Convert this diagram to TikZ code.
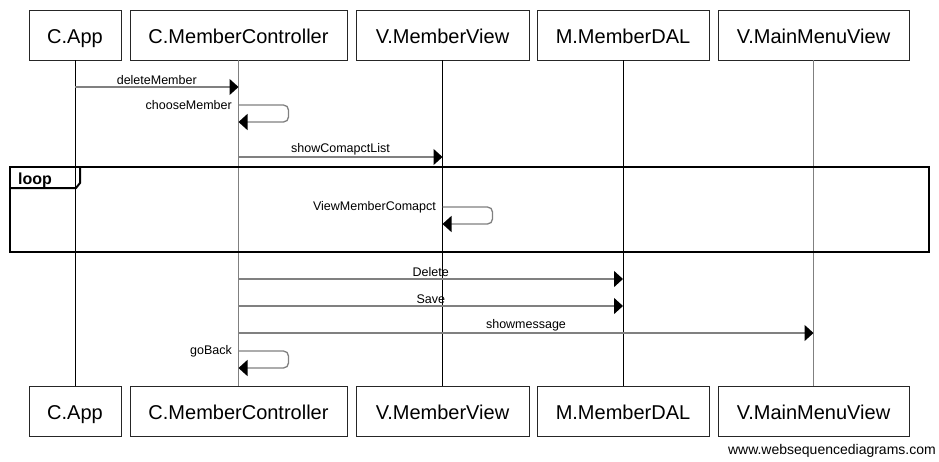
\documentclass[tikz,border=0pt]{standalone}
\usepackage{fontspec}
\setmainfont{Liberation Sans}
\usetikzlibrary{arrows.meta,calc}
\tikzstyle{participant} = [rectangle, draw=black!85, text centered, minimum height=50pt, inner sep=0pt, text height=18pt, text depth=2pt, font=\fontsize{20}{22}\selectfont]
\tikzstyle{lifeline} = [line width=1pt]
\tikzstyle{message} = [draw=black!50, line width=1.3pt, -{Triangle[length=9pt,width=16pt,fill=black,color=black]}]
\tikzstyle{msglabel} = [font=\fontsize{12.5}{14}\selectfont, inner sep=1.5pt]
\tikzstyle{selfmsg} = [draw=black!50, line width=1.3pt, rounded corners=5pt, -{Triangle[length=9pt,width=16pt,fill=black,color=black]}]

\begin{document}
\begin{tikzpicture}[x=1pt, y=-1pt]
            \useasboundingbox [fill=white] (0,0) rectangle (939,461);
            % participants, top and bottom
            \node (app) [participant, minimum width=92pt] at (75,35) {C.App};
            \node (ctrl) [participant, minimum width=217pt] at (238.5,35) {C.MemberController};
            \node (view) [participant, minimum width=173pt] at (442.5,35) {V.MemberView};
            \node (dal) [participant, minimum width=172pt] at (623,35) {M.MemberDAL};
            \node (menu) [participant, minimum width=191pt] at (813.5,35) {V.MainMenuView};
            \node (appB) [participant, minimum width=92pt] at (75,411) {C.App};
            \node (ctrlB) [participant, minimum width=217pt] at (238.5,411) {C.MemberController};
            \node (viewB) [participant, minimum width=173pt] at (442.5,411) {V.MemberView};
            \node (dalB) [participant, minimum width=172pt] at (623,411) {M.MemberDAL};
            \node (menuB) [participant, minimum width=191pt] at (813.5,411) {V.MainMenuView};
            % lifelines
            \draw [lifeline] (app) -- (appB);
            \draw [lifeline, black!50] (ctrl) -- (ctrlB);
            \draw [lifeline] (view) -- (viewB);
            \draw [lifeline] (dal) -- (dalB);
            \draw [lifeline, black!50] (menu) -- (menuB);
            % loop frame
            \draw [line width=2pt] (10,167) rectangle (929,252);
            \draw [line width=2pt] (10,188) -- (76,188) -- (80,183) -- (80,167);
            \node (loop) [anchor=base west, inner sep=0pt, font=\fontsize{16}{18}\selectfont\bfseries] at (18,184) {loop};
            % messages
            \draw [message] (app.south |- 0,87) -- node[msglabel, above] {deleteMember} (ctrl.south |- 0,87);
            \draw [selfmsg] (ctrl.south |- 0,105) -- ($(ctrl.south |- 0,105)+(50,0)$) -- ($(ctrl.south |- 0,122)+(50,0)$) -- (ctrl.south |- 0,122);
            \node (chooseLbl) [msglabel, anchor=east] at ($(ctrl.south |- 0,105)+(-5,0)$) {chooseMember};
            \draw [message] (ctrl.south |- 0,157) -- node[msglabel, above] {showComapctList} (view.south |- 0,157);
            \draw [selfmsg] (view.south |- 0,207) -- ($(view.south |- 0,207)+(50,0)$) -- ($(view.south |- 0,224)+(50,0)$) -- (view.south |- 0,224);
            \node (viewLbl) [msglabel, anchor=east] at ($(view.south |- 0,207)+(-5,0)$) {ViewMemberComapct};
            \draw [message] (ctrl.south |- 0,279) -- node[msglabel, above] {Delete} (dal.south |- 0,279);
            \draw [message] (ctrl.south |- 0,306) -- node[msglabel, above] {Save} (dal.south |- 0,306);
            \draw [message] (ctrl.south |- 0,333) -- node[msglabel, above] {showmessage} (menu.south |- 0,333);
            \draw [selfmsg] (ctrl.south |- 0,351) -- ($(ctrl.south |- 0,351)+(50,0)$) -- ($(ctrl.south |- 0,368)+(50,0)$) -- (ctrl.south |- 0,368);
            \node (backLbl) [msglabel, anchor=east] at ($(ctrl.south |- 0,351)+(-5,0)$) {goBack};
            % footer
            \node (footer) [anchor=east, inner sep=0pt, font=\fontsize{14}{16}\selectfont] at (936,451) {www.websequencediagrams.com};
        \end{tikzpicture}
\end{document}
